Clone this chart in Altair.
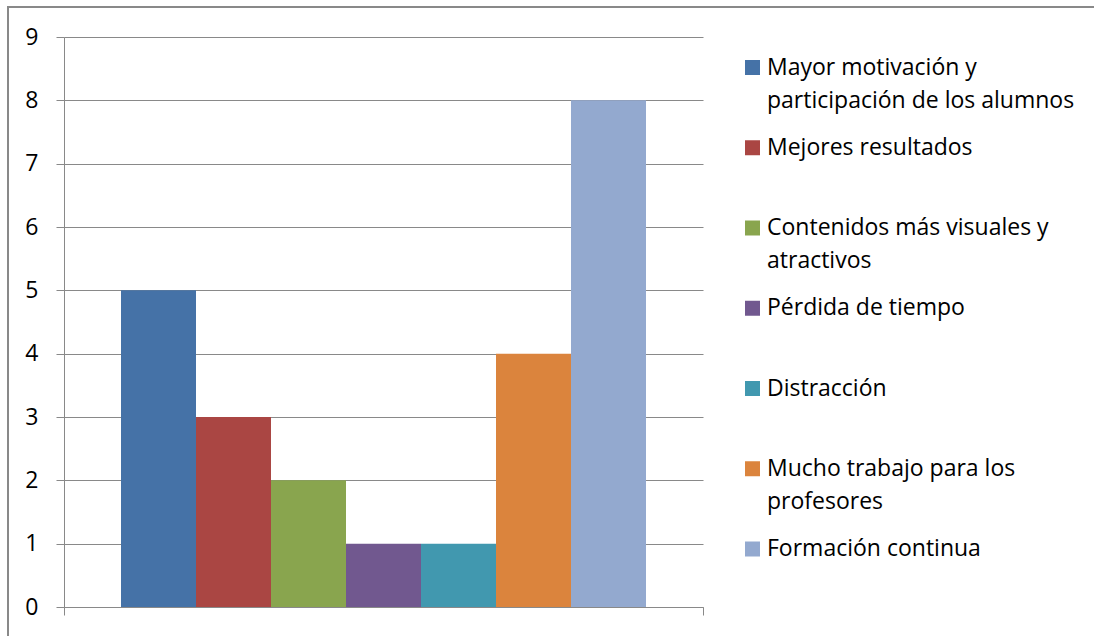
import altair as alt
import pandas as pd

series = [
    "Mayor motivación y\nparticipación de los alumnos",
    "Mejores resultados",
    "Contenidos más visuales y\natractivos",
    "Pérdida de tiempo",
    "Distracción",
    "Mucho trabajo para los\nprofesores",
    "Formación continua",
]
values = [5, 3, 2, 1, 1, 4, 8]
colors = ["#4572A7", "#AA4643", "#89A54E", "#71588F", "#4198AF", "#DB843D", "#93A9CF"]
y_ticks = list(range(0, 10))

FONT = "Open Sans"
GRAY = "#898989"

df = pd.DataFrame({"grupo": ["Total"] * len(series), "serie": series, "valor": values})
leg_df = pd.DataFrame({"serie": series})

color = alt.Color("serie:N", sort=series, scale=alt.Scale(domain=series, range=colors), legend=None)

bars = alt.Chart(df).mark_bar().encode(
    x=alt.X(
        "grupo:N",
        title=None,
        scale=alt.Scale(paddingInner=0, paddingOuter=0),
        axis=alt.Axis(labels=False, ticks=True, tickBand="extent", tickSize=8, grid=False,
                      domainColor=GRAY, tickColor=GRAY, domainWidth=1, tickWidth=1),
    ),
    xOffset=alt.XOffset("serie:N", sort=series, scale=alt.Scale(paddingInner=0, paddingOuter=0.76)),
    y=alt.Y(
        "valor:Q",
        title=None,
        scale=alt.Scale(domain=[0, 9], nice=False),
        axis=alt.Axis(values=y_ticks, tickSize=8, labelPadding=18, grid=True, gridColor=GRAY,
                      domainColor=GRAY, tickColor=GRAY, labelFont=FONT, labelFontSize=23,
                      labelColor="#000000"),
    ),
    color=color,
)

leg_y = alt.Y("serie:N", sort=series, axis=None,
              scale=alt.Scale(type="point", range=[30.5, 512], padding=0))

squares = alt.Chart(leg_df).mark_square(size=225, opacity=1).encode(
    x=alt.value(688.5), y=leg_y, color=color
)

texts = alt.Chart(leg_df).mark_text(
    align="left", baseline="top", dy=-11, lineBreak="\n", lineHeight=33,
    font=FONT, fontSize=23, color="#000000"
).encode(x=alt.value(703), y=leg_y, text="serie:N")

frame_df = pd.DataFrame({"k": [0]})
border_top = alt.Chart(frame_df).mark_rule(stroke=GRAY, strokeWidth=2).encode(
    x=alt.value(-56), x2=alt.value(1030), y=alt.value(-30)
)
border_left = alt.Chart(frame_df).mark_rule(stroke=GRAY, strokeWidth=2).encode(
    x=alt.value(-56), y=alt.value(-31), y2=alt.value(599)
)

chart = alt.layer(border_top, border_left, bars, squares, texts).resolve_scale(y="independent").properties(
    width=639,
    height=570,
    autosize=alt.AutoSizeParams(type="none"),
    padding={"left": 64, "top": 37, "right": 391, "bottom": 29},
    background="white",
).configure_view(strokeWidth=0)

chart.save("out.html", embed_options={"renderer": "svg", "actions": False})
